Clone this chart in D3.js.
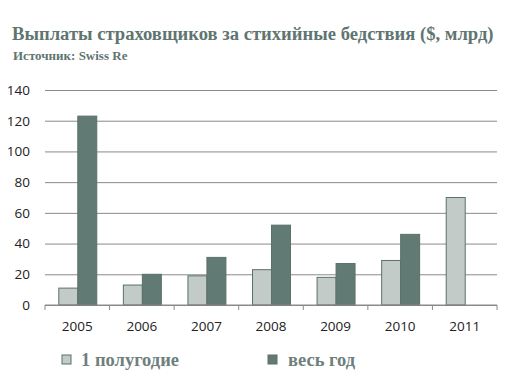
<!DOCTYPE html>
<html>
<head>
<meta charset="utf-8">
<script src="https://cdn.jsdelivr.net/npm/d3@7"></script>
<style>
  body { margin: 0; background: #fff; }
  svg { display: block; }
</style>
</head>
<body>
<div id="container"></div>
<script>
/* DATA */
const years = ["2005", "2006", "2007", "2008", "2009", "2010", "2011"];
const firstHalf = [11, 13, 19, 23, 18, 29, 70];
const fullYear = [123, 20, 31, 52, 27, 46, null];
const yTicks = [0, 20, 40, 60, 80, 100, 120, 140];
const seriesNames = ["1 полугодие", "весь год"];

/* CONSTANTS */
const width = 507, height = 378,
      margin = { top: 90, bottom: 73, left: 45, right: 10 };
const lightFill = "#c2cbc8", darkFill = "#627a74", strokeCol = "#5c716c";
const titleCol = "#5f7571";

const svg = d3.select("#container").append("svg")
  .attr("width", width)
  .attr("height", height);

/* TITLE */
svg.append("text")
  .attr("x", 12).attr("y", 40)
  .attr("font-family", "Liberation Serif, Times New Roman, serif")
  .attr("font-weight", "bold")
  .attr("font-size", "18.6px")
  .attr("fill", titleCol)
  .text("Выплаты страховщиков за стихийные бедствия ($, млрд)");

svg.append("text")
  .attr("x", 13).attr("y", 60)
  .attr("font-family", "Liberation Serif, Times New Roman, serif")
  .attr("font-weight", "bold")
  .attr("font-size", "13px")
  .attr("fill", titleCol)
  .text("Источник: Swiss Re");

/* SCALES */
const xScale = d3.scaleBand()
  .domain(years)
  .range([margin.left, width - margin.right])
  .paddingInner(0)
  .paddingOuter(0);

const xInner = d3.scaleBand()
  .domain([0, 1])
  .range([0, xScale.bandwidth()])
  .paddingOuter(0.7)
  .paddingInner(0);

const yScale = d3.scaleLinear()
  .domain([0, 140])
  .range([height - margin.bottom, margin.top]);

/* GRID + Y AXIS */
const yAxis = d3.axisLeft(yScale)
  .tickValues(yTicks)
  .tickSize(-(width - margin.left - margin.right))
  .tickPadding(15);

const gy = svg.append("g")
  .attr("transform", `translate(${margin.left},0)`)
  .call(yAxis);
gy.select(".domain").remove();
gy.selectAll(".tick line").attr("stroke", "#8a8a8a").attr("stroke-width", 1);
gy.selectAll(".tick text")
  .attr("font-family", "Open Sans, sans-serif")
  .attr("font-size", "13.5px")
  .attr("fill", "#222");

/* BARS */
const groups = svg.append("g").selectAll("g")
  .data(years)
  .enter().append("g")
  .attr("transform", d => `translate(${xScale(d)},0)`);

groups.append("rect")
  .attr("x", xInner(0) + 0.5)
  .attr("y", (d, i) => yScale(firstHalf[i]))
  .attr("width", xInner.bandwidth())
  .attr("height", (d, i) => yScale(0) - yScale(firstHalf[i]))
  .attr("fill", lightFill)
  .attr("stroke", strokeCol)
  .attr("stroke-width", 1);

groups.filter((d, i) => fullYear[i] != null)
  .append("rect")
  .attr("x", xInner(1) + 0.5)
  .attr("y", d => yScale(fullYear[years.indexOf(d)]))
  .attr("width", xInner.bandwidth())
  .attr("height", d => yScale(0) - yScale(fullYear[years.indexOf(d)]))
  .attr("fill", darkFill)
  .attr("stroke", strokeCol)
  .attr("stroke-width", 1);

/* X AXIS */
const gx = svg.append("g")
  .attr("transform", `translate(0,${yScale(0)})`);

gx.append("line")
  .attr("x1", margin.left).attr("x2", width - margin.right)
  .attr("stroke", "#8a8a8a");

gx.selectAll("line.tick")
  .data(years.concat(["end"]))
  .enter().append("line")
  .attr("class", "tick")
  .attr("x1", d => d === "end" ? width - margin.right : xScale(d))
  .attr("x2", d => d === "end" ? width - margin.right : xScale(d))
  .attr("y1", 0).attr("y2", 5)
  .attr("stroke", "#8a8a8a");

gx.selectAll("text")
  .data(years)
  .enter().append("text")
  .attr("x", d => xScale(d) + xScale.bandwidth() / 2)
  .attr("y", 26)
  .attr("text-anchor", "middle")
  .attr("font-family", "Open Sans, sans-serif")
  .attr("font-size", "13.5px")
  .attr("fill", "#222")
  .text(d => d);

/* LEGEND */
const legendX = [62, 268];
const legend = svg.append("g").selectAll("g")
  .data(seriesNames)
  .enter().append("g")
  .attr("transform", (d, i) => `translate(${legendX[i]},355)`);

legend.append("rect")
  .attr("width", 9).attr("height", 9)
  .attr("fill", (d, i) => i === 0 ? lightFill : darkFill)
  .attr("stroke", strokeCol);

legend.append("text")
  .attr("x", (d, i) => i === 0 ? 19 : 20)
  .attr("y", 11)
  .attr("font-family", "Liberation Serif, Times New Roman, serif")
  .attr("font-weight", "bold")
  .attr("font-size", "18.5px")
  .attr("fill", "#6f807c")
  .text(d => d);
</script>
</body>
</html>
